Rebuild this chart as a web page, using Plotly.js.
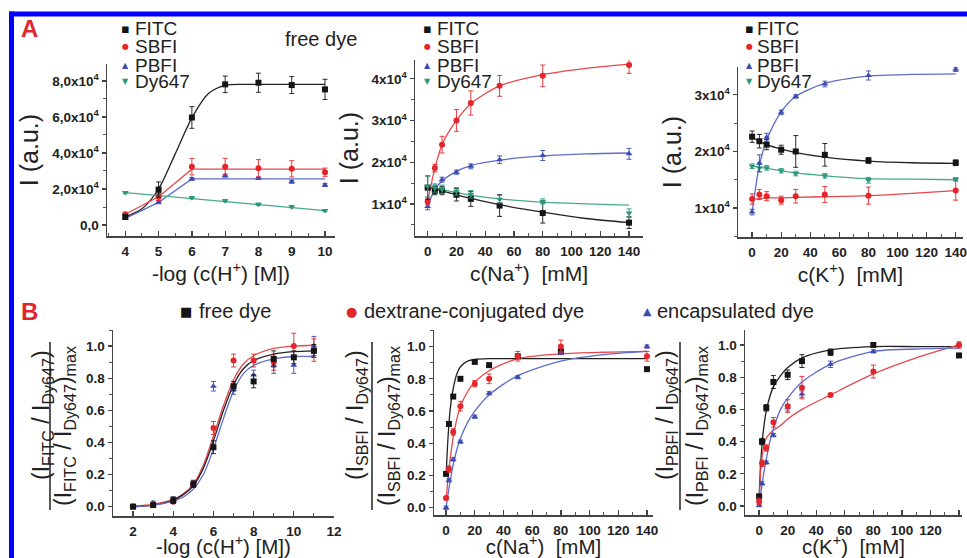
<!DOCTYPE html>
<html><head><meta charset="utf-8">
<script src="https://cdn.plot.ly/plotly-3.0.1.min.js"></script>
<style>html,body{margin:0;padding:0;background:#fff}</style>
</head><body><div id="chart" style="width:967px;height:558px"></div>
<script>
// ---------- DATA ----------
const seriesNamesA = ['FITC', 'SBFI', 'PBFI', 'Dy647'];
const seriesNamesB = ['free dye', 'dextrane-conjugated dye', 'encapsulated dye'];

// Panel A1: free dye vs pH
const pHx = [4, 5, 6, 7, 8, 9, 10];
const A1_FITC = [4500, 19700, 59700, 78100, 79000, 77700, 75300];
const A1_FITC_err = [1000, 4200, 6000, 4600, 5300, 4700, 5600];
const A1_SBFI = [6000, 15700, 32400, 32400, 31500, 31200, 29300];
const A1_SBFI_err = [1000, 2000, 4600, 4600, 4800, 4500, 2300];
const A1_PBFI = [3700, 12600, 25600, 27400, 26000, 24000, 22200];
const A1_PBFI_err = [500, 800, 800, 800, 500, 800, 800];
const A1_Dy647 = [18000, 17500, 15200, 13500, 11500, 10200, 8000];
const A1_Dy647_err = [600, 600, 600, 600, 600, 600, 600];
// fitted curves
const A1_fitX_FITC = [4, 4.5, 5, 5.5, 6, 6.5, 7, 7.5, 8, 9, 10];
const A1_fit_FITC = [4500, 9000, 20000, 39500, 59500, 73000, 77500, 78100, 78100, 78100, 78100];
const A1_fitX_lin = [4, 5, 6, 7, 8, 9, 10];
const A1_fit_SBFI = [6000, 15700, 31000, 31000, 31000, 31000, 31000];
const A1_fit_PBFI = [3700, 12600, 25600, 25600, 25600, 25600, 25600];
const A1_fit_Dy647 = [18000, 16300, 14700, 13000, 11300, 9700, 8000];

// Panel A2: free dye vs Na+
const naX = [0, 5, 10, 20, 30, 50, 80, 140];
const A2_FITC = [13900, 13200, 13200, 12200, 11200, 9600, 7800, 5500];
const A2_FITC_err = [2800, 1000, 1000, 1500, 1800, 2600, 2400, 1400];
const A2_SBFI = [10600, 18600, 24200, 30000, 34200, 38300, 40700, 43300];
const A2_SBFI_err = [800, 900, 2000, 2600, 2900, 2500, 2600, 2000];
const A2_PBFI = [9400, 13500, 15800, 17600, 19000, 20600, 21600, 22000];
const A2_PBFI_err = [800, 1000, 600, 500, 600, 900, 1200, 1300];
const A2_Dy647 = [14200, 13800, 13500, 13000, 12300, 11100, 10600, 7800];
const A2_Dy647_err = [2500, 1000, 1000, 900, 900, 900, 600, 1000];
const fitXc = [0, 5, 10, 20, 30, 50, 80, 110, 140];
const A2_fit_FITC = [14000, 13500, 13100, 12200, 11300, 9800, 8000, 6500, 5500];
const A2_fit_SBFI = [10500, 18500, 24200, 30000, 34000, 38300, 41000, 42500, 43500];
const A2_fit_PBFI = [9400, 13500, 15500, 17800, 19200, 20500, 21500, 22000, 22200];
const A2_fit_Dy647 = [14200, 13800, 13400, 12700, 12100, 11200, 10400, 10000, 9700];

// Panel A3: free dye vs K+
const kX = [0, 5, 10, 20, 30, 50, 80, 140];
const A3_FITC = [22600, 21800, 21200, 20300, 20000, 19400, 18400, 18000];
const A3_FITC_err = [1000, 1200, 900, 800, 2800, 2000, 500, 500];
const A3_SBFI = [11600, 12400, 12100, 11400, 12100, 12400, 12200, 13100];
const A3_SBFI_err = [900, 900, 800, 700, 1200, 1400, 1500, 1700];
const A3_PBFI = [9300, 17900, 22500, 26900, 29700, 31900, 33400, 34500];
const A3_PBFI_err = [500, 1500, 700, 400, 300, 500, 800, 400];
const A3_Dy647 = [17400, 17100, 17100, 16600, 16100, 15700, 14900, 15100];
const A3_Dy647_err = [400, 700, 400, 400, 400, 400, 500, 300];
const A3_fit_FITC = [22500, 21800, 21200, 20400, 19800, 19000, 18300, 18000, 17900];
const A3_fit_SBFI = [11500, 11700, 11800, 11800, 11900, 12000, 12200, 12600, 13100];
const A3_fit_PBFI = [9300, 17500, 22000, 27000, 29700, 32000, 33300, 33600, 33700];
const A3_fit_Dy647 = [17400, 17200, 17000, 16600, 16200, 15700, 15200, 15100, 15000];

// Panel B1: normalized ratio vs pH
const bpHx = [2, 3, 4, 5, 6, 7, 8, 9, 10, 11];
const B1_free = [0.0, 0.01, 0.04, 0.14, 0.37, 0.75, 0.78, 0.92, 0.93, 0.97];
const B1_free_err = [0.01, 0.01, 0.02, 0.02, 0.04, 0.03, 0.04, 0.05, 0.04, 0.04];
const B1_dex = [0.0, 0.015, 0.03, 0.14, 0.49, 0.91, 0.91, 0.9, 1.0, 0.975];
const B1_dex_err = [0.01, 0.01, 0.01, 0.02, 0.04, 0.04, 0.04, 0.05, 0.08, 0.07];
const B1_enc = [0.005, 0.025, 0.05, 0.145, 0.75, 0.73, 0.82, 0.88, 0.88, 1.0];
const B1_enc_err = [0.01, 0.01, 0.01, 0.02, 0.03, 0.03, 0.03, 0.05, 0.05, 0.06];
const B1_fitX = [2, 3, 4, 4.5, 5, 5.5, 6, 6.5, 7, 7.5, 8, 9, 10, 11];
const B1_fit_free = [0.0, 0.01, 0.04, 0.075, 0.13, 0.24, 0.41, 0.6, 0.76, 0.86, 0.91, 0.95, 0.965, 0.97];
const B1_fit_dex = [0.005, 0.015, 0.045, 0.08, 0.14, 0.26, 0.44, 0.63, 0.79, 0.89, 0.94, 0.985, 1.0, 1.005];
const B1_fit_enc = [0.0, 0.01, 0.035, 0.06, 0.11, 0.2, 0.36, 0.55, 0.72, 0.83, 0.88, 0.92, 0.935, 0.935];

// Panel B2: normalized ratio vs Na+
const bcX = [0, 2, 5, 10, 20, 30, 50, 80, 140];
const B2_free = [0.21, 0.52, 0.69, 0.8, 0.905, 0.885, 0.94, 0.97, 0.86];
const B2_free_err = [0.01, 0.01, 0.01, 0.01, 0.01, 0.01, 0.01, 0.01, 0.01];
const B2_dex = [0.06, 0.24, 0.47, 0.63, 0.77, 0.8, 0.94, 1.0, 0.94];
const B2_dex_err = [0.01, 0.02, 0.02, 0.03, 0.02, 0.03, 0.03, 0.04, 0.03];
const B2_enc = [0.0, 0.17, 0.3, 0.41, 0.565, 0.71, 0.81, 0.96, 1.0];
const B2_enc_err = [0.01, 0.01, 0.01, 0.01, 0.01, 0.01, 0.01, 0.01, 0.01];
const Bc_fitX = [0, 1, 2, 3, 5, 7.5, 10, 15, 20, 30, 50, 80, 110, 140];
const B2_fit_free = [0.2, 0.38, 0.52, 0.62, 0.74, 0.83, 0.875, 0.91, 0.92, 0.925, 0.925, 0.925, 0.925, 0.925];
const B2_fit_dex = [0.05, 0.15, 0.24, 0.31, 0.44, 0.55, 0.63, 0.72, 0.78, 0.85, 0.925, 0.955, 0.965, 0.97];
const B2_fit_enc = [0.0, 0.06, 0.12, 0.17, 0.27, 0.36, 0.43, 0.53, 0.6, 0.7, 0.82, 0.91, 0.95, 0.97];

// Panel B3: normalized ratio vs K+
const B3_free = [0.06, 0.4, 0.61, 0.77, 0.815, 0.9, 0.955, 1.0, 0.935];
const B3_free_err = [0.01, 0.02, 0.02, 0.04, 0.03, 0.04, 0.02, 0.01, 0.01];
const B3_dex = [0.03, 0.265, 0.36, 0.52, 0.62, 0.735, 0.69, 0.835, 1.0];
const B3_dex_err = [0.02, 0.02, 0.02, 0.03, 0.04, 0.07, 0.01, 0.04, 0.02];
const B3_enc = [0.005, 0.14, 0.27, 0.44, 0.61, 0.695, 0.88, 0.96, 1.0];
const B3_enc_err = [0.01, 0.01, 0.01, 0.01, 0.02, 0.02, 0.02, 0.01, 0.01];
const B3_fit_free = [0.06, 0.25, 0.38, 0.47, 0.59, 0.68, 0.74, 0.81, 0.86, 0.92, 0.97, 0.99, 0.99, 0.99];
const B3_fit_dex = [0.02, 0.2, 0.3, 0.36, 0.42, 0.45, 0.47, 0.5, 0.54, 0.6, 0.69, 0.82, 0.92, 1.0];
const B3_fit_enc = [0.0, 0.07, 0.13, 0.19, 0.29, 0.4, 0.48, 0.6, 0.67, 0.77, 0.88, 0.96, 0.975, 0.98];

// tick labels
const A1_yTicks = [0, 20000, 40000, 60000, 80000];
const A1_yLabels = ['0,0', '2,0x10<sup>4</sup>', '4,0x10<sup>4</sup>', '6,0x10<sup>4</sup>', '8,0x10<sup>4</sup>'];
const A2_yTicks = [10000, 20000, 30000, 40000];
const A2_yLabels = ['1x10<sup>4</sup>', '2x10<sup>4</sup>', '3x10<sup>4</sup>', '4x10<sup>4</sup>'];
const A3_yTicks = [10000, 20000, 30000];
const A3_yLabels = ['1x10<sup>4</sup>', '2x10<sup>4</sup>', '3x10<sup>4</sup>'];
const A1_xTicks = [4, 5, 6, 7, 8, 9, 10];
const conc_xTicks = [0, 20, 40, 60, 80, 100, 120, 140];
const B1_xTicks = [2, 4, 6, 8, 10, 12];
const B_yTicks = [0, 0.2, 0.4, 0.6, 0.8, 1.0];
const B_yLabels = ['0.0', '0.2', '0.4', '0.6', '0.8', '1.0'];

// ---------- STYLE ----------
const W = 967, H = 558;
const px = v => v / W, py = v => 1 - v / H;
const C = {black: '#151515', red: '#e3262b', blue: '#3c4bb0', teal: '#28977b'};
const CL = {black: '#222222', red: '#e8474b', blue: '#5f6cc9', teal: '#48a88e'};
const FONT = 'Liberation Sans, Arial, sans-serif';

const traces = [];
function pts(n, x, y, err, col, sym) {
  traces.push({type: 'scatter', mode: 'markers', x: x, y: y, xaxis: 'x' + (n === 1 ? '' : n), yaxis: 'y' + (n === 1 ? '' : n),
    marker: {color: col, symbol: sym, size: 6}, cliponaxis: false,
    error_y: err ? {type: 'data', array: err, visible: true, color: col, thickness: 0.9, width: 2.5} : undefined});
}
function fit(n, x, y, col, shape) {
  traces.push({type: 'scatter', mode: 'lines', x: x, y: y, xaxis: 'x' + (n === 1 ? '' : n), yaxis: 'y' + (n === 1 ? '' : n),
    line: {color: col, width: 1.3, shape: shape || 'spline', smoothing: 0.8}, hoverinfo: 'skip'});
}

// A1
fit(1, A1_fitX_FITC, A1_fit_FITC, CL.black);
fit(1, A1_fitX_lin, A1_fit_SBFI, CL.red, 'linear');
fit(1, A1_fitX_lin, A1_fit_PBFI, CL.blue, 'linear');
fit(1, A1_fitX_lin, A1_fit_Dy647, CL.teal, 'linear');
pts(1, pHx, A1_Dy647, A1_Dy647_err, C.teal, 'triangle-down');
pts(1, pHx, A1_PBFI, A1_PBFI_err, C.blue, 'triangle-up');
pts(1, pHx, A1_SBFI, A1_SBFI_err, C.red, 'circle');
pts(1, pHx, A1_FITC, A1_FITC_err, C.black, 'square');
// A2
fit(2, fitXc, A2_fit_FITC, CL.black);
fit(2, fitXc, A2_fit_SBFI, CL.red);
fit(2, fitXc, A2_fit_PBFI, CL.blue);
fit(2, fitXc, A2_fit_Dy647, CL.teal);
pts(2, naX, A2_PBFI, A2_PBFI_err, C.blue, 'triangle-up');
pts(2, naX, A2_SBFI, A2_SBFI_err, C.red, 'circle');
pts(2, naX, A2_FITC, A2_FITC_err, C.black, 'square');
pts(2, naX, A2_Dy647, A2_Dy647_err, C.teal, 'triangle-down');
// A3
fit(3, fitXc, A3_fit_FITC, CL.black);
fit(3, fitXc, A3_fit_SBFI, CL.red);
fit(3, fitXc, A3_fit_PBFI, CL.blue);
fit(3, fitXc, A3_fit_Dy647, CL.teal);
pts(3, kX, A3_SBFI, A3_SBFI_err, C.red, 'circle');
pts(3, kX, A3_Dy647, A3_Dy647_err, C.teal, 'triangle-down');
pts(3, kX, A3_FITC, A3_FITC_err, C.black, 'square');
pts(3, kX, A3_PBFI, A3_PBFI_err, C.blue, 'triangle-up');
// B1
fit(4, B1_fitX, B1_fit_dex, CL.red);
fit(4, B1_fitX, B1_fit_free, CL.black);
fit(4, B1_fitX, B1_fit_enc, CL.blue);
pts(4, bpHx, B1_enc, B1_enc_err, C.blue, 'triangle-up');
pts(4, bpHx, B1_dex, B1_dex_err, C.red, 'circle');
pts(4, bpHx, B1_free, B1_free_err, C.black, 'square');
// B2
fit(5, Bc_fitX, B2_fit_free, CL.black);
fit(5, Bc_fitX, B2_fit_dex, CL.red);
fit(5, Bc_fitX, B2_fit_enc, CL.blue);
pts(5, bcX, B2_free, B2_free_err, C.black, 'square');
pts(5, bcX, B2_enc, B2_enc_err, C.blue, 'triangle-up');
pts(5, bcX, B2_dex, B2_dex_err, C.red, 'circle');
// B3
fit(6, Bc_fitX, B3_fit_free, CL.black);
fit(6, Bc_fitX, B3_fit_dex, CL.red);
fit(6, Bc_fitX, B3_fit_enc, CL.blue);
pts(6, bcX, B3_free, B3_free_err, C.black, 'square');
pts(6, bcX, B3_enc, B3_enc_err, C.blue, 'triangle-up');
pts(6, bcX, B3_dex, B3_dex_err, C.red, 'circle');

// ---------- AXES ----------
const tickFont = {family: FONT, size: 13.5, color: '#222', weight: 'bold'};
function xax(n, x0, x1, range, tickvals, minorD, title, tsize, standoff) {
  return {domain: [px(x0), px(x1)], range: range, anchor: 'y' + (n === 1 ? '' : n),
    showline: true, linecolor: '#444', linewidth: 1.5, showgrid: false, zeroline: false,
    ticks: 'inside', ticklen: 5, tickwidth: 1.3, tickcolor: '#444', tickvals: tickvals,
    tickfont: tickFont, ticklabelstandoff: 2,
    minor: {ticks: 'inside', ticklen: 3, tickcolor: '#555', tickwidth: 1, dtick: minorD, tick0: 0, showgrid: false},
    title: {text: title, font: {family: FONT, size: tsize, color: '#222'}, standoff: standoff}};
}
function yax(n, y0, y1, range, tickvals, ticktext, minorD, title) {
  const o = {domain: [py(y1), py(y0)], range: range, anchor: 'x' + (n === 1 ? '' : n),
    showline: true, linecolor: '#444', linewidth: 1.5, showgrid: false, zeroline: false,
    ticks: 'outside', ticklen: 4, tickwidth: 1.3, tickcolor: '#444', tickvals: tickvals, ticktext: ticktext,
    tickfont: tickFont,
    minor: {ticks: 'outside', ticklen: 2.5, tickcolor: '#555', tickwidth: 1, dtick: minorD, tick0: 0, showgrid: false}};
  if (title) o.title = {text: title, font: {family: FONT, size: 25, color: '#222'}, standoff: 6};
  return o;
}

const layout = {
  width: W, height: H, margin: {l: 0, r: 0, t: 0, b: 0},
  paper_bgcolor: '#ffffff', plot_bgcolor: 'rgba(0,0,0,0)', showlegend: false,
  font: {family: FONT, color: '#222'},
  xaxis: xax(1, 107, 335, [3.45, 10.3], A1_xTicks, 0.5, '-log (c(H<sup>+</sup>) [M])', 21, 4),
  yaxis: yax(1, 64, 236, [-6100, 89400], A1_yTicks, A1_yLabels, 10000, 'I (a.u.)'),
  xaxis2: xax(2, 415, 643, [-8.8, 149.7], conc_xTicks, 10, 'c(Na<sup>+</sup>)  [mM]', 21, 4),
  yaxis2: yax(2, 60, 236, [2300, 44500], A2_yTicks, A2_yLabels, 5000, 'I (a.u.)'),
  xaxis3: xax(3, 738, 963, [-9.7, 145], conc_xTicks, 10, 'c(K<sup>+</sup>)  [mM]', 21, 4),
  yaxis3: yax(3, 67, 237, [4900, 34900], A3_yTicks, A3_yLabels, 5000, 'I (a.u.)'),
  xaxis4: xax(4, 113, 334, [1, 12], B1_xTicks, 1, '-log (c(H<sup>+</sup>) [M])', 20.5, 1),
  yaxis4: yax(4, 330, 516, [-0.058, 1.1], B_yTicks, B_yLabels, 0.1, null),
  xaxis5: xax(5, 434, 653, [-8.4, 144.2], conc_xTicks, 10, 'c(Na<sup>+</sup>)  [mM]', 20.5, 1),
  yaxis5: yax(5, 330, 515, [-0.045, 1.103], B_yTicks, B_yLabels, 0.1, null),
  xaxis6: xax(6, 745, 962, [-9.9, 142.1], conc_xTicks, 10, 'c(K<sup>+</sup>)  [mM]', 20.5, 1),
  yaxis6: yax(6, 330, 515, [-0.056, 1.093], B_yTicks, B_yLabels, 0.1, null),
  annotations: [], shapes: []
};

// blue frame (top and left edges)
layout.shapes.push({type: 'rect', xref: 'paper', yref: 'paper', x0: px(9), x1: 1, y0: py(16.5), y1: py(11.5), fillcolor: '#0000ff', line: {width: 0}});
layout.shapes.push({type: 'rect', xref: 'paper', yref: 'paper', x0: px(9), x1: px(14), y0: 0, y1: py(11.5), fillcolor: '#0000ff', line: {width: 0}});

function ann(x, y, text, opts) {
  layout.annotations.push(Object.assign({xref: 'paper', yref: 'paper', x: px(x), y: py(y), text: text, showarrow: false,
    xanchor: 'left', yanchor: 'middle', font: {family: FONT, size: 18, color: '#222'}}, opts || {}));
}
// panel letters
ann(29, 28, 'A', {xanchor: 'center', font: {family: FONT, size: 24, color: '#e0262e', weight: 'bold'}});
ann(29, 312, 'B', {xanchor: 'center', font: {family: FONT, size: 24, color: '#e0262e', weight: 'bold'}});
ann(321, 39, 'free dye', {xanchor: 'center', font: {family: FONT, size: 20, color: '#222'}});

// A legends
const glyphs = ['\u25AA', '\u25CF', '\u25B2', '\u25BC'];
const gcol = [C.black, C.red, C.blue, C.teal];
const gsize = [13, 8, 8, 8];
const rowsY = [29, 47, 65, 82];
[[125, 133], [427, 435], [749, 755]].forEach(function (p) {
  for (let i = 0; i < 4; i++) {
    ann(p[0], rowsY[i], glyphs[i], {xanchor: 'center', font: {family: 'DejaVu Sans', size: gsize[i], color: gcol[i]}});
    ann(p[1], rowsY[i], seriesNamesA[i], {font: {family: FONT, size: 19, color: '#222'}});
  }
});
// B legend
const bLeg = [[186, 197, '\u25A0', C.black, 13], [351, 362, '\u25CF', C.red, 13], [647, 655, '\u25B2', C.blue, 11]];
bLeg.forEach(function (b, i) {
  ann(b[0], 311, b[2], {xanchor: 'center', font: {family: 'DejaVu Sans', size: b[4], color: b[3]}});
  ann(b[1], 311, seriesNamesB[i], {font: {family: FONT, size: 20, color: '#222'}});
});

// B y-axis fraction titles
const fracs = [
  {num: 42, bar: 50, den: 64, ion: 'FITC'},
  {num: 356, bar: 372, den: 388, ion: 'SBFI'},
  {num: 666, bar: 680, den: 696, ion: 'PBFI'}
];
fracs.forEach(function (f) {
  ann(f.num, 415, '(I<sub>' + f.ion + '</sub> / I<sub>Dy647</sub>)', {xanchor: 'center', textangle: -90, font: {family: FONT, size: 23, color: '#222'}});
  ann(f.den, 426, '(I<sub>' + f.ion + '</sub> / I<sub>Dy647</sub>)<sub>max</sub>', {xanchor: 'center', textangle: -90, font: {family: FONT, size: 23, color: '#222'}});
  layout.shapes.push({type: 'line', xref: 'paper', yref: 'paper', x0: px(f.bar), x1: px(f.bar), y0: py(510), y1: py(342), line: {color: '#222', width: 1.5}});
});

Plotly.newPlot('chart', traces, layout, {staticPlot: true});
</script></body></html>
